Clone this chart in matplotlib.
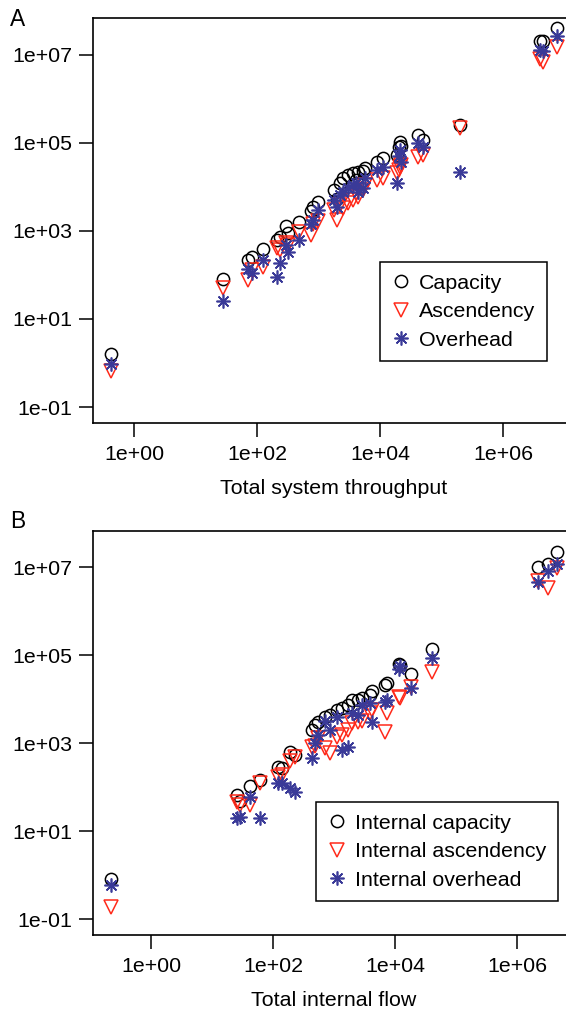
import numpy as np
import matplotlib
matplotlib.use("Agg")
import matplotlib.pyplot as plt

plt.rcParams['font.family'] = ['Liberation Sans', 'DejaVu Sans']

# Panel A: whole-system values
tst = [0.42, 28, 71, 83, 125, 211, 237, 297, 318, 480, 755, 815, 980, 1780, 2000,
       2240, 2500, 3000, 3650, 4100, 4400, 5300, 5700, 8900, 11200, 19000, 20400,
       21000, 22000, 41500, 50000, 200000, 4.0e6, 4.5e6, 7.6e6]
capacity = [1.6, 81, 220, 256, 390, 630, 730, 1290, 890, 1590, 2830, 3550, 4560, 8500, 5400,
            12300, 15800, 18700, 21000, 14400, 22000, 23000, 27000, 37000, 46000, 53000, 78000,
            105000, 85000, 152000, 117000, 257000, 2.0e7, 2.0e7, 4.1e7]
ascendency = [0.66, 50, 78, 129, 150, 405, 370, 535, 480, 950, 810, 1450, 1700, 3000, 1780,
              3900, 3300, 4300, 5000, 7300, 5900, 8500, 11200, 14400, 15800, 21000, 24500,
              28400, 31600, 48000, 53000, 219000, 7.8e6, 6.9e6, 1.5e7]
overhead = [0.95, 26, 137, 112, 220, 89, 186, 480, 330, 630, 1450, 1780, 3000, 5000, 3550,
            6600, 7800, 9500, 11200, 12300, 7800, 9500, 15800, 24500, 28400, 12300, 50000,
            69000, 37000, 100000, 78000, 22000, 1.3e7, 1.2e7, 2.6e7]

# Panel B: internal values
tif = [0.22, 26, 29, 42, 61, 120, 141, 190, 229, 435, 490, 550, 710, 850, 1120, 1350,
       1700, 1990, 2460, 2880, 3880, 4200, 6900, 7400, 11700, 12100, 18200, 40500,
       2.2e6, 3.2e6, 4.5e6]
int_capacity = [0.81, 66, 50, 105, 145, 285, 270, 630, 535, 2000, 2570, 3000, 3900, 4360,
                5600, 6300, 7300, 9500, 9500, 10500, 12300, 15800, 21000, 23000, 63000, 59000,
                37000, 138000, 1.0e7, 1.23e7, 2.2e7]
int_ascendency = [0.19, 46, 39, 39, 123, 170, 186, 405, 480, 810, 890, 1290, 780, 590, 1380,
                  1510, 2000, 2830, 3000, 3300, 4800, 5600, 1780, 4800, 11200, 10500, 18700,
                  41000, 5.0e6, 3.5e6, 9.5e6]
int_overhead = [0.59, 20, 21, 59, 20, 123, 123, 95, 78, 455, 1000, 1510, 3300, 2000, 3900,
                690, 810, 5000, 4360, 7300, 8100, 3000, 8500, 9500, 50000, 56000, 17800,
                89000, 4.6e6, 8.5e6, 1.2e7]

xticks = [1e0, 1e2, 1e4, 1e6]
xticklabels = ["1e+00", "1e+02", "1e+04", "1e+06"]
yticks = [1e-1, 1e1, 1e3, 1e5, 1e7]
yticklabels = ["1e-01", "1e+01", "1e+03", "1e+05", "1e+07"]

BLUE = "#3a3a98"
RED = "#ff2a1a"
FS = 15.4

fig = plt.figure(figsize=(5.66, 10.10), dpi=100)
axA = fig.add_axes([93 / 566, 1 - 423 / 1010, 482 / 566, 405 / 1010])
axB = fig.add_axes([93 / 566, 1 - 935 / 1010, 482 / 566, 404 / 1010])


def panel(ax, x, c, a, o, labels, xlab, xlim, legpos):
    ax.plot(x, c, ls="none", marker="o", ms=8.8, mfc="none", mec="black", mew=1.1, label=labels[0])
    ax.plot(x, a, ls="none", marker="v", ms=10, mfc="none", mec=RED, mew=1.1, label=labels[1])
    ax.plot(x, o, ls="none", marker=(8, 2, 0), ms=10, color=BLUE, mec=BLUE, mew=1.2, label=labels[2])
    ax.set_xscale("log")
    ax.set_yscale("log")
    ax.set_xlim(xlim)
    ax.set_ylim(10 ** -1.36, 10 ** 7.83)
    ax.set_xticks(xticks)
    ax.set_xticklabels(xticklabels)
    ax.set_yticks(yticks)
    ax.set_yticklabels(yticklabels)
    ax.minorticks_off()
    ax.tick_params(axis="both", length=10, width=1.1, labelsize=FS, direction="out")
    ax.tick_params(axis="x", pad=6)
    ax.tick_params(axis="y", pad=5)
    for s in ax.spines.values():
        s.set_linewidth(1.2)
    ax.set_xlabel(xlab, fontsize=FS, labelpad=11)
    leg = ax.legend(loc="upper left", bbox_to_anchor=legpos, fontsize=FS, frameon=True,
                    fancybox=False, edgecolor="black", framealpha=1, borderpad=0.54,
                    labelspacing=0.45, handletextpad=0.38, handlelength=0.9, borderaxespad=0)
    leg.get_frame().set_linewidth(1.1)


panel(axA, tst, capacity, ascendency, overhead, ["Capacity", "Ascendency", "Overhead"],
      "Total system throughput", (10 ** -0.667, 10 ** 7.17), ((380 - 93) / 482, (423 - 262) / 405))
panel(axB, tif, int_capacity, int_ascendency, int_overhead,
      ["Internal capacity", "Internal ascendency", "Internal overhead"],
      "Total internal flow", (10 ** -0.95, 10 ** 6.95), ((316 - 93) / 482, (935 - 802) / 404))

fig.text(10 / 566, 1 - 20 / 1010, "A", fontsize=FS + 1, va="center", ha="left")
fig.text(10 / 566, 1 - 522 / 1010, "B", fontsize=FS + 1, va="center", ha="left")

fig.savefig("out.png", dpi=100)
